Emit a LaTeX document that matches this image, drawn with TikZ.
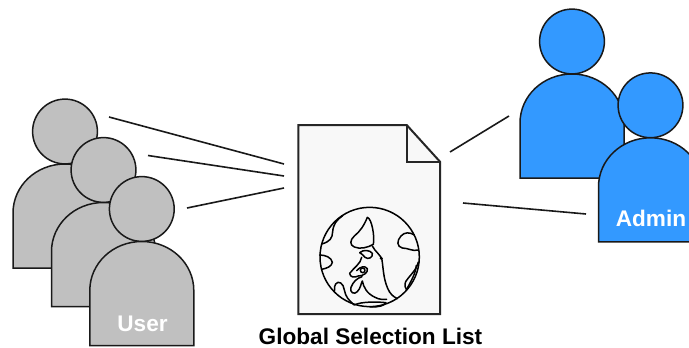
\documentclass[tikz,border=0pt]{standalone}
\usepackage{fontspec}
\setmainfont{Liberation Sans}
\tikzset{
  usercol/.style={draw=black!90,fill=personfill,line width=1.5pt,line join=miter},
  link/.style={draw=black!90,line width=1.6pt},
  land/.style={draw=black,line width=1.5pt,line cap=round,line join=round},
  paper/.style={draw=black!85,line width=2pt,line join=miter},
  lab/.style={font=\bfseries\fontsize{22.6}{26}\selectfont,text=white,inner sep=0pt,anchor=base},
}
\definecolor{usergrey}{HTML}{C0C0C0}
\definecolor{adminblue}{HTML}{3399FF}
\definecolor{docfill}{HTML}{F8F8F8}
\newcommand{\personshape}[3]{% head-centre x, head-centre y, colour
  \colorlet{personfill}{#3}
  \draw[usercol] (#1,#2) circle[radius=32.4];
  \draw[usercol] (#1-52,#2+81.5) -- (#1-52,#2+136.5) -- (#1+52,#2+136.5) -- (#1+52,#2+81.5)
     .. controls (#1+52,#2+54.5) and (#1+29,#2+32.5) .. (#1,#2+32.5)
     .. controls (#1-29,#2+32.5) and (#1-52,#2+54.5) .. (#1-52,#2+81.5) -- cycle;
}
\begin{document}
\begin{tikzpicture}[x=1pt,y=-1pt]
\useasboundingbox (0,0) rectangle (689,348);
\clip (0,0) rectangle (689,348);
\fill[white] (0,0) rectangle (689,348);
% users
\personshape{65}{131.5}{usergrey}
\personshape{103.5}{170}{usergrey}
\personshape{141.8}{209}{usergrey}
\node[lab] (userlab) at (142.5,331.5) {User};
% admins
\personshape{572}{41.5}{adminblue}
\personshape{650.5}{105.3}{adminblue}
\node[lab] (adminlab) at (651,226.5) {Admin};
% document
\draw[paper,fill=docfill] (298.3,125) -- (406.7,125) -- (440,161.7) -- (440,314) -- (298.3,314) -- cycle;
\draw[paper] (406.7,125) -- (406.7,161.7) -- (440,161.7);
% globe (reference-zoom coordinates)
\begin{scope}[shift={(315,200)},x=0.3333pt,y=-0.3333pt]
\draw[land,fill=docfill] (164,171) circle[radius=149];
\draw[land] (157,52) .. controls (148,75) and (135,95) .. (118,108) .. controls (105,120) and (103,135) .. (118,141)
   .. controls (135,149) and (160,142) .. (175,133) .. controls (180,110) and (170,55) .. (157,52);
\draw[land] (172,138) .. controls (180,155) and (198,165) .. (201,180) .. controls (205,205) and (205,235) .. (218,265)
   .. controls (225,282) and (235,290) .. (247,296);
\fill (199,175) circle[radius=5];
\draw[land] (134,158) .. controls (145,148) and (165,150) .. (172,160) .. controls (175,172) and (160,180) .. (150,172)
   .. controls (145,165) and (140,162) .. (134,158);
\draw[land] (140,172) .. controls (138,190) and (115,205) .. (104,220) .. controls (105,232) and (118,234) .. (130,228)
   .. controls (145,228) and (160,218) .. (157,206) .. controls (150,196) and (135,200) .. (125,212);
\draw[land] (143,211) circle[radius=7];
\draw[land] (141,230) .. controls (125,235) and (115,245) .. (108,262) .. controls (103,278) and (118,285) .. (127,275)
   .. controls (137,265) and (138,250) .. (142,243) .. controls (146,262) and (155,280) .. (180,292) .. controls (195,300) and (205,298) .. (215,298);
\draw[land] (120,314) .. controls (140,305) and (185,305) .. (213,308) .. controls (205,318) and (195,321) .. (165,321);
\draw[land] (83,47) .. controls (65,60) and (55,72) .. (53,95) .. controls (52,115) and (45,125) .. (20,132);
\draw[land] (14,165) .. controls (30,165) and (50,172) .. (52,187) .. controls (50,200) and (35,205) .. (20,208);
\draw[land] (118,315) .. controls (100,300) and (92,290) .. (88,270) .. controls (86,250) and (70,240) .. (62,252)
   .. controls (55,262) and (62,275) .. (56,272);
\draw[land] (298,105) .. controls (285,96) and (268,96) .. (258,108) .. controls (245,122) and (245,140) .. (262,144)
   .. controls (280,144) and (292,155) .. (310,150);
\draw[land] (310,186) .. controls (305,210) and (285,225) .. (272,245) .. controls (268,255) and (270,265) .. (275,270);
\draw[land] (304,196) .. controls (302,220) and (290,240) .. (275,268);
\end{scope}
% connectors
\coordinate (u1) at (109,117); \coordinate (d1) at (284,164);
\coordinate (u2) at (148,155.5); \coordinate (d2) at (284,176);
\coordinate (u3) at (187,208); \coordinate (d3) at (284,188);
\coordinate (a1) at (509,116); \coordinate (d4) at (450,152);
\coordinate (a2) at (586,214); \coordinate (d5) at (463,203);
\draw[link] (u1) -- (d1);
\draw[link] (u2) -- (d2);
\draw[link] (u3) -- (d3);
\draw[link] (d4) -- (a1);
\draw[link] (d5) -- (a2);
\node[lab,text=black] (title) at (370.5,344.5) {Global Selection List};
\end{tikzpicture}
\end{document}
